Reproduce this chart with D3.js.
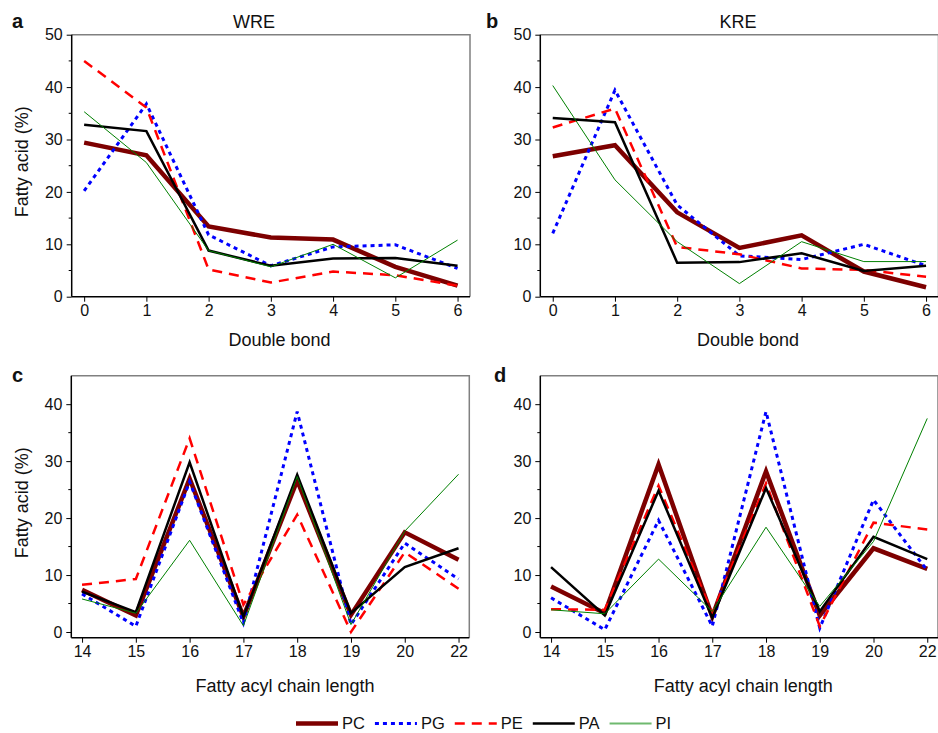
<!DOCTYPE html>
<html><head><meta charset="utf-8">
<script src="https://cdn.jsdelivr.net/npm/d3@7"></script>
<style>body{margin:0;background:#fff}svg{display:block}text{font-family:"Liberation Sans",Arial,sans-serif;fill:#111}</style>
</head><body>
<script>
// ---- data ----
const seriesNames = ["PC","PG","PE","PA","PI"];
const doubleBondCats = ["0","1","2","3","4","5","6"];
const chainCats = ["14","15","16","17","18","19","20","22"];

const wrePC = [29.4,27.0,13.4,11.3,10.9,5.7,2.1];
const wrePG = [20.2,36.8,11.8,5.9,9.5,9.9,5.4];
const wrePE = [45.0,36.1,5.2,2.7,4.8,4.1,2.1];
const wrePA = [32.8,31.6,8.8,5.9,7.3,7.4,5.9];
const wrePI = [35.3,25.6,8.8,5.7,10.0,3.6,10.8];

const krePC = [26.8,28.9,16.1,9.3,11.7,4.8,1.8];
const krePG = [12.1,39.4,17.5,7.8,7.1,10.0,5.9];
const krePE = [32.3,35.9,9.5,8.1,5.4,5.1,3.8];
const krePA = [34.1,33.3,6.5,6.6,8.3,4.9,5.9];
const krePI = [40.3,22.3,10.5,2.5,10.5,6.7,6.7];

const wreChainPC = [7.4,2.9,26.9,2.7,26.6,3.0,17.5,12.7];
const wreChainPG = [6.7,1.0,26.4,1.6,38.7,1.3,15.6,9.3];
const wreChainPE = [8.3,9.3,34.0,4.8,20.6,0.0,14.0,7.6];
const wreChainPA = [7.1,3.5,29.8,2.7,27.6,3.3,11.4,14.7];
const wreChainPI = [5.8,3.3,16.1,1.1,27.3,1.3,17.7,27.7];

const kreChainPC = [8.0,3.3,29.4,2.7,28.2,2.9,14.7,11.1];
const kreChainPG = [6.0,0.4,19.6,1.0,38.7,0.7,23.2,10.8];
const kreChainPE = [4.0,3.9,25.7,3.3,26.1,1.0,19.2,18.0];
const kreChainPA = [11.4,2.9,24.8,2.5,25.3,3.6,16.7,12.8];
const kreChainPI = [3.9,3.2,12.8,3.6,18.4,4.5,15.9,37.5];

const yTicksTop = [0,10,20,30,40,50];
const yTicksBottom = [0,10,20,30,40];

// ---- styles ----
const style = {
  PC:{color:"#7d0000",width:4.5,dash:null},
  PG:{color:"#0000ff",width:3,dash:"4,4"},
  PE:{color:"#ff0000",width:2.5,dash:"10,7"},
  PA:{color:"#000000",width:2.5,dash:null},
  PI:{color:"#008000",width:1,dash:null}
};

const panels = [
  {letter:"a", title:"WRE", cats:doubleBondCats, series:[wrePC,wrePG,wrePE,wrePA,wrePI],
   x0:71.7,x1:470,y0:34.7,y1:296.7, yDom:[0,50], yTicks:yTicksTop, minor:[5,15,25,35,45],
   xTitle:"Double bond", xTitleX:279.5, xTitleY:346, yTitle:true, letterX:12, letterY:28, titleX:254},
  {letter:"b", title:"KRE", cats:doubleBondCats, series:[krePC,krePG,krePE,krePA,krePI],
   x0:540.3,x1:938.5,y0:34.7,y1:296.7, yDom:[0,50], yTicks:yTicksTop, minor:[5,15,25,35,45],
   xTitle:"Double bond", xTitleX:748, xTitleY:346, yTitle:false, letterX:486, letterY:28, titleX:738},
  {letter:"c", title:null, cats:chainCats, series:[wreChainPC,wreChainPG,wreChainPE,wreChainPA,wreChainPI],
   x0:71.3,x1:469.3,y0:375.7,y1:637.7, yDom:[-1,45], yTicks:yTicksBottom, minor:[5,15,25,35],
   xTitle:"Fatty acyl chain length", xTitleX:285, xTitleY:691.5, yTitle:true, letterX:12, letterY:382},
  {letter:"d", title:null, cats:chainCats, series:[kreChainPC,kreChainPG,kreChainPE,kreChainPA,kreChainPI],
   x0:540.3,x1:938,y0:375.7,y1:637.7, yDom:[-1,45], yTicks:yTicksBottom, minor:[5,15,25,35],
   xTitle:"Fatty acyl chain length", xTitleX:743.3, xTitleY:691.5, yTitle:false, letterX:494, letterY:382}
];

const W=938,H=733;
const svg=d3.select("body").append("svg").attr("width",W).attr("height",H);

panels.forEach(p=>{
  const x=d3.scalePoint().domain(p.cats).range([p.x0,p.x1]).padding(0.2);
  const y=d3.scaleLinear().domain(p.yDom).range([p.y1,p.y0]);
  const g=svg.append("g");
  g.append("path").attr("d",`M${p.x0},${p.y0}H${p.x1}V${p.y1}`)
    .attr("fill","none").attr("stroke","#808080").attr("stroke-width",1.5);
  const line=d3.line().x((d,i)=>x(p.cats[i])).y(d=>y(d));
  p.series.forEach((vals,si)=>{
    const s=style[seriesNames[si]];
    g.append("path").datum(vals).attr("d",line).attr("fill","none")
      .attr("stroke",s.color).attr("stroke-width",s.width)
      .attr("stroke-dasharray",s.dash).attr("stroke-linejoin","miter").attr("stroke-miterlimit",4);
  });
  const ya=g.append("g").attr("transform",`translate(${p.x0},0)`)
    .call(d3.axisLeft(y).tickValues(p.yTicks).tickSize(5).tickSizeOuter(0).tickPadding(4).tickFormat(d3.format("d")));
  g.append("g").attr("transform",`translate(${p.x0},0)`)
    .selectAll("line").data(p.minor).join("line")
    .attr("x1",-3).attr("x2",0).attr("y1",d=>y(d)).attr("y2",d=>y(d)).attr("stroke","#000");
  const xa=g.append("g").attr("transform",`translate(0,${p.y1})`)
    .call(d3.axisBottom(x).tickSize(5).tickSizeOuter(0).tickPadding(3));
  [ya,xa].forEach(a=>{
    a.select(".domain").attr("stroke","#000").attr("stroke-width",1.5);
    a.selectAll(".tick line").attr("stroke","#000").attr("stroke-width",1);
    a.selectAll("text").attr("font-size",16).attr("fill","#111").attr("font-family","Liberation Sans, Arial, sans-serif");
  });
  ya.select(".domain").attr("d",`M0,${p.y0}V${p.y1}`);
  xa.select(".domain").attr("d",`M${p.x0},0H${p.x1}`);
  if(p.title) g.append("text").attr("x",p.titleX).attr("y",28)
    .attr("text-anchor","middle").attr("font-size",18).text(p.title);
  g.append("text").attr("x",p.letterX).attr("y",p.letterY).attr("font-size",20)
    .attr("font-weight","bold").text(p.letter);
  g.append("text").attr("x",p.xTitleX).attr("y",p.xTitleY).attr("text-anchor","middle")
    .attr("font-size",18).text(p.xTitle);
  if(p.yTitle) g.append("text").attr("transform",`translate(28,${(p.y0+p.y1)/2 - 4}) rotate(-90)`)
    .attr("text-anchor","middle").attr("font-size",18).text("Fatty acid (%)");
});

// legend
const legendStyle={PI:{color:"#6fb96f",width:2}};
let lx=296; const ly=723.5;
const leg=svg.append("g");
seriesNames.forEach(n=>{
  const s=Object.assign({},style[n],legendStyle[n]||{});
  leg.append("line").attr("x1",lx).attr("x2",lx+42).attr("y1",ly).attr("y2",ly)
    .attr("stroke",s.color).attr("stroke-width",s.width).attr("stroke-dasharray",s.dash);
  const t=leg.append("text").attr("x",lx+46).attr("y",ly+5.5).attr("font-size",16.5).text(n);
  lx+=46+t.node().getComputedTextLength()+10;
});
</script>
</body></html>
